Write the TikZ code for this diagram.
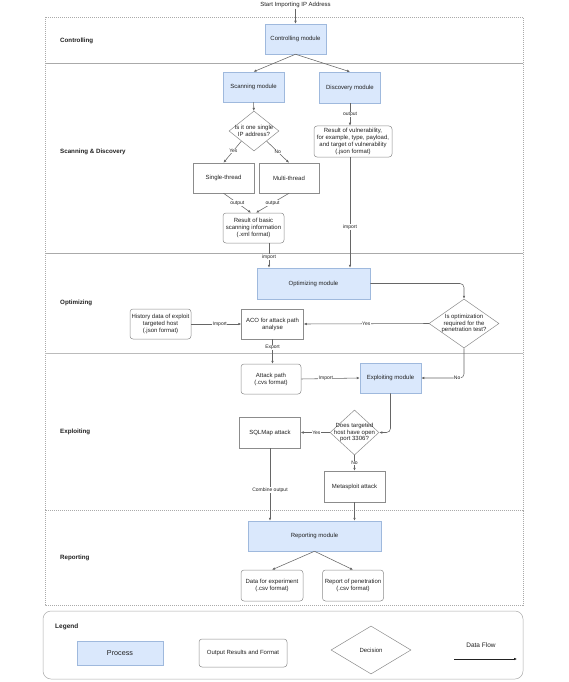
\documentclass[tikz,border=0pt]{standalone}
\usepackage{fontspec}
\setmainfont{Liberation Sans}
\usetikzlibrary{shapes.geometric,arrows.meta,calc}
\definecolor{procfill}{HTML}{DAE8FC}
\definecolor{procdraw}{HTML}{9FB9DD}
\definecolor{boxdraw}{HTML}{8C8C8C}
\definecolor{linec}{HTML}{666666}
\definecolor{lanec}{HTML}{AAAAAA}
\definecolor{txtc}{HTML}{222222}
\newcommand{\ft}{\fontsize{6}{6.9}\selectfont}
\newcommand{\fl}{\fontsize{5}{5.5}\selectfont}
\tikzset{
  proc/.style={draw=procdraw,fill=procfill,line width=0.5pt,inner sep=0pt,align=center,font=\ft,text=txtc},
  plainbox/.style={draw=boxdraw,fill=white,line width=0.5pt,inner sep=0pt,align=center,font=\ft,text=txtc},
  outbox/.style={plainbox,rounded corners=3pt},
  decis/.style={draw=boxdraw,fill=white,line width=0.5pt,diamond,inner sep=0pt,shape aspect=1},
  lane/.style={draw=lanec,line width=0.5pt,dash pattern=on 1pt off 1pt},
  lanelbl/.style={anchor=west,font=\fontsize{6.2}{7}\selectfont\bfseries,text=txtc,inner sep=0pt},
  flow/.style={draw=linec,line width=0.55pt,-{Latex[length=3pt,width=2.6pt]}},
  lbl/.style={fill=white,inner sep=0.4pt,font=\fl,text=txtc},
}
\begin{document}
\begin{tikzpicture}[x=1pt,y=-1pt]
\useasboundingbox (0,0) rectangle (568,682);
\fill[white] (0,0) rectangle (568,682);

% lanes
\draw[lane] (45,17) rectangle (523,63);
\draw[lane] (45,63) rectangle (523,253);
\draw[lane] (45,253) rectangle (523,353);
\draw[lane] (45,353) rectangle (523,510);
\draw[lane] (45,510) rectangle (523,605);
\draw[draw=lanec!80,line width=0.5pt] (45,353) -- (523,353);

\node[lanelbl] (lc) at (60,41) {Controlling};
\node[lanelbl] (ls) at (60,152) {Scanning \& Discovery};
\node[lanelbl] (lo) at (60,303) {Optimizing};
\node[lanelbl] (le) at (60,432) {Exploiting};
\node[lanelbl] (lr) at (60,558) {Reporting};

% title
\node[font=\ft,text=txtc,inner sep=1pt] (title) at (295.5,5) {Start Importing IP Address};

% nodes
\node[proc,minimum width=61pt,minimum height=30pt] (ctrl) at (295.5,39) {Controlling module};
\node[proc,minimum width=61pt,minimum height=30pt] (scan) at (253.5,87) {Scanning module};
\node[proc,minimum width=61pt,minimum height=31pt] (disc) at (350,87.5) {Discovery module};
\node[decis,minimum width=50pt,minimum height=40pt,
  label={[font=\ft,text=txtc,align=center]center:{Is it one single\\IP address?}}] (dq1) at (254,131) {};
\node[plainbox,minimum width=61pt,minimum height=30pt] (single) at (223.5,178) {Single-thread};
\node[plainbox,minimum width=60pt,minimum height=30pt] (multi) at (289,178) {Multi-thread};
\node[outbox,minimum width=61pt,minimum height=30pt] (res1) at (253.5,228) {Result of basic\\scanning information\\(.xml format)};
\node[outbox,minimum width=78pt,minimum height=31pt] (vuln) at (353,141.5) {Result of vulnerability,\\for example, type, payload,\\and target of vulnerability\\(.json format)};

\node[proc,minimum width=113pt,minimum height=31pt] (opt) at (313.5,283.5) {Optimizing module};
\node[decis,minimum width=70pt,minimum height=49pt,
  label={[font=\ft,text=txtc,align=center]center:{Is optimization\\required for the\\penetration test?}}] (dq2) at (464,323.5) {};
\node[plainbox,minimum width=62pt,minimum height=30pt] (aco) at (272.5,324) {ACO for attack path\\analyse};
\node[outbox,minimum width=61pt,minimum height=30pt] (hist) at (160.5,324) {History data of exploit\\targeted host\\(.json format)};

\node[outbox,minimum width=60pt,minimum height=30pt] (apath) at (271,379) {Attack path\\(.cvs format)};
\node[proc,minimum width=61pt,minimum height=30pt] (expl) at (390.5,378) {Exploiting module};
\node[decis,minimum width=49pt,minimum height=45pt,
  label={[font=\ft,text=txtc,align=center]center:{Does targeted\\host have open\\port 3306?}}] (dq3) at (354.5,432.5) {};
\node[plainbox,minimum width=61pt,minimum height=31pt] (sql) at (270,432.5) {SQLMap attack};
\node[plainbox,minimum width=61pt,minimum height=31pt] (meta) at (354.5,486.5) {Metasploit attack};

\node[proc,minimum width=133pt,minimum height=30pt] (rep) at (314.5,536) {Reporting module};
\node[outbox,minimum width=62pt,minimum height=31pt] (data) at (272,585.5) {Data for experiment\\(.csv format)};
\node[outbox,minimum width=61pt,minimum height=31pt] (penrep) at (353,585.5) {Report of penetration\\(.csv format)};

% connectors
\draw[flow] (title) -- (ctrl);
\draw[flow] (ctrl.south) -- (scan.north);
\draw[flow] (ctrl.south) -- (disc.north);
\draw[flow] (scan) -- (dq1);
\draw[flow] (dq1.south west) -- node[lbl,pos=0.45]{Yes} (single.north);
\draw[flow] (dq1.south east) -- node[lbl,pos=0.5]{No} (multi.north);
\draw[flow] (single.south) -- node[lbl,pos=0.5]{output} ([xshift=-2.5pt]res1.north);
\draw[flow] (multi.south) -- node[lbl,pos=0.5]{output} ([xshift=2.5pt]res1.north);
\draw[flow] (disc.south) -- node[lbl,pos=0.5]{output} (disc.south |- vuln.north);
\draw[flow] (vuln.south -| disc.south) -- node[lbl,pos=0.63]{import} (opt.north -| disc.south);
\draw[flow] ([xshift=15.5pt]res1.south) -- node[lbl,pos=0.56]{import} ([xshift=15.5pt]res1.south |- opt.north);
\draw[flow,rounded corners=4pt] (opt.east) -| (dq2.north);
\draw[flow] (dq2.west) -- node[lbl,pos=0.5]{Yes} (aco.east);
\draw[flow] (hist.east) -- node[lbl,pos=0.57]{Import} (aco.west);
\draw[flow] (aco.south) -- node[lbl,pos=0.33]{Export} (aco.south |- apath.north);
\draw[flow] (apath.east) -- node[lbl,pos=0.42]{Import} (expl.west);
\draw[flow,rounded corners=4pt] (dq2.south) |- node[lbl,pos=0.58]{No} (expl.east);
\draw[flow,rounded corners=4pt] (expl.south) |- (dq3.east);
\draw[flow] (dq3.west) -- node[lbl,pos=0.46]{Yes} (sql.east);
\draw[flow] (dq3.south) -- node[lbl,pos=0.5]{No} (meta.north);
\draw[flow] (sql.south) -- node[lbl,pos=0.575]{Combine output} (sql.south |- rep.north);
\draw[flow] (meta.south) -- (meta.south |- rep.north);
\draw[flow] (rep.south) -- (data.north);
\draw[flow] (rep.south) -- (penrep.north);

% legend
\draw[draw=lanec,line width=0.5pt,rounded corners=8pt] (43,611) rectangle (523,679);
\node[anchor=west,font=\fontsize{6.5}{7}\selectfont\bfseries,text=txtc,inner sep=0pt] (leg) at (55,627) {Legend};
\node[proc,minimum width=86pt,minimum height=24pt,font=\fontsize{7.2}{8}\selectfont] (lproc) at (120,653) {Process};
\node[outbox,minimum width=88pt,minimum height=28pt] (lout) at (243,653) {Output Results and Format};
\node[decis,minimum width=80pt,minimum height=48pt,
  label={[font=\ft,text=txtc]center:{Decision}}] (ldec) at (371,650) {};
\node[font=\fontsize{6.5}{7}\selectfont,text=txtc,inner sep=0pt] (lflow) at (481,645) {Data Flow};
\coordinate (fa) at (454,659);
\coordinate (fb) at (517,659);
\draw[flow,draw=txtc] (fa) -- (fb);
\end{tikzpicture}
\end{document}
